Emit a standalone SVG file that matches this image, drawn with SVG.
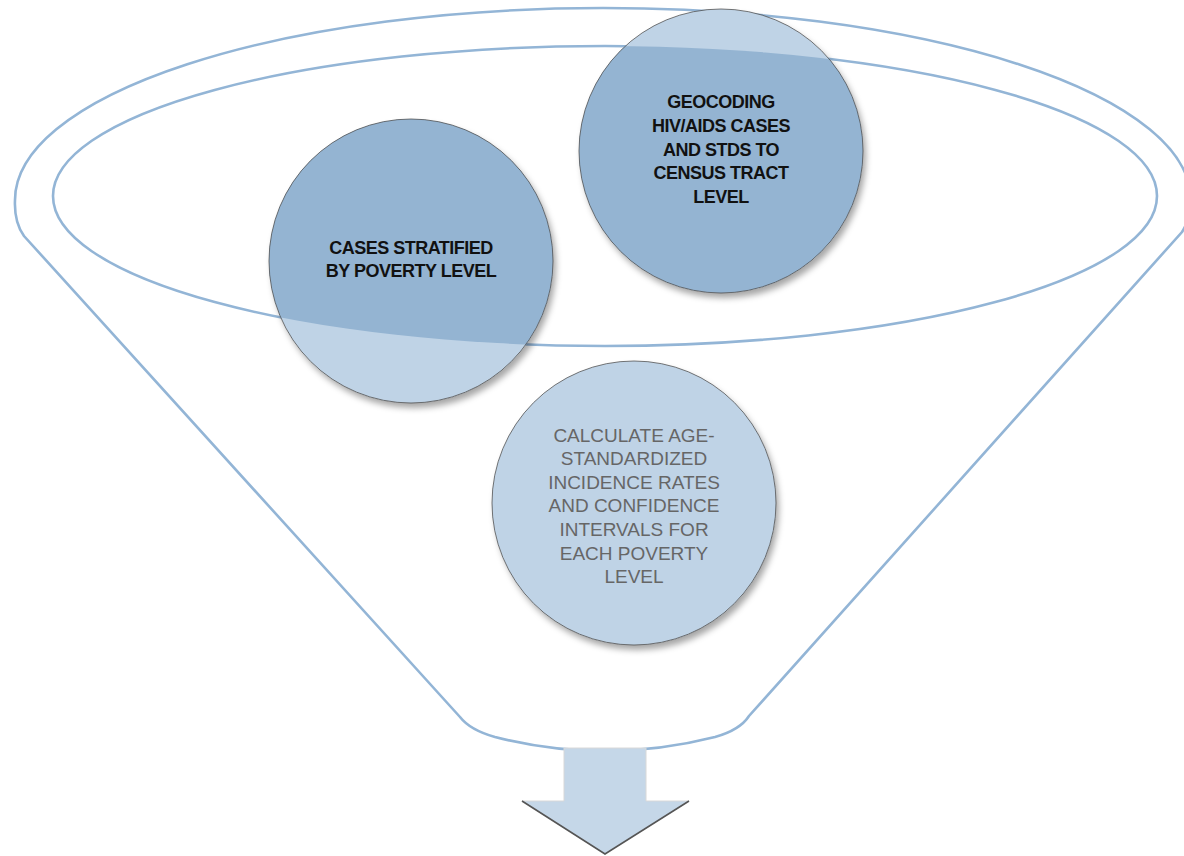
<svg xmlns="http://www.w3.org/2000/svg" width="1184" height="856" viewBox="0 0 1184 856">
<style>
.funnel{fill:none;stroke:#93b5d6;stroke-width:2.6}
.circ-light{fill:#bfd3e6}
.circ-dark{fill:#94b4d2}
.circ-edge{fill:none;stroke:#4a4a4a;stroke-width:1;stroke-opacity:0.75}
.t-dark{font-family:"Liberation Sans",Arial,sans-serif;font-size:18px;font-weight:bold;letter-spacing:-0.5px;fill:#111;text-anchor:middle}
.t-gray{font-family:"Liberation Sans",Arial,sans-serif;font-size:19px;fill:#666;text-anchor:middle}
</style>
<defs>
<filter id="shadow" x="-20%" y="-20%" width="140%" height="140%">
<feDropShadow dx="3" dy="5" stdDeviation="3" flood-color="#000" flood-opacity="0.35"/>
</filter>
<clipPath id="innerClip">
<ellipse cx="605" cy="196" rx="552" ry="150"/>
</clipPath>
</defs>

<g id="funnel">
<path class="funnel" d="M 460,717 L 24,236 Q 14,222 15,200 A 588 192 0 0 1 1191,200 Q 1191,218 1182,232 L 749,716 Q 740,730 715,737 Q 605,765 495,737 Q 470,730 460,717 Z"/>
<ellipse class="funnel" cx="605" cy="196" rx="552" ry="150"/>
</g>

<g id="node-stratified">
<circle class="circ-light" cx="411" cy="261" r="142" filter="url(#shadow)"/>
<circle class="circ-dark" cx="411" cy="261" r="142" clip-path="url(#innerClip)"/>
<circle class="circ-edge" cx="411" cy="261" r="142"/>
<text class="t-dark" x="411" y="254">CASES STRATIFIED</text>
<text class="t-dark" x="411" y="277">BY POVERTY LEVEL</text>
</g>

<g id="node-geocoding">
<circle class="circ-light" cx="721" cy="151" r="142" filter="url(#shadow)"/>
<circle class="circ-dark" cx="721" cy="151" r="142" clip-path="url(#innerClip)"/>
<circle class="circ-edge" cx="721" cy="151" r="142"/>
<text class="t-dark" x="721" y="108">GEOCODING</text>
<text class="t-dark" x="721" y="132">HIV/AIDS CASES</text>
<text class="t-dark" x="721" y="156">AND STDS TO</text>
<text class="t-dark" x="721" y="179">CENSUS TRACT</text>
<text class="t-dark" x="721" y="203">LEVEL</text>
</g>

<g id="node-calculate">
<circle class="circ-light" cx="634" cy="503" r="142" filter="url(#shadow)"/>
<circle class="circ-edge" cx="634" cy="503" r="142" stroke-opacity="0.4"/>
<text class="t-gray" x="634" y="442">CALCULATE AGE-</text>
<text class="t-gray" x="634" y="465">STANDARDIZED</text>
<text class="t-gray" x="634" y="489">INCIDENCE RATES</text>
<text class="t-gray" x="634" y="512">AND CONFIDENCE</text>
<text class="t-gray" x="634" y="536">INTERVALS FOR</text>
<text class="t-gray" x="634" y="560">EACH POVERTY</text>
<text class="t-gray" x="634" y="583">LEVEL</text>
</g>

<g id="connectors">
<path d="M 564,748 L 646,748 L 646,801 L 689,801 L 605,854 L 522,801 L 564,801 Z" fill="#c5d7e8" stroke="#d8d8d8" stroke-width="1"/>
<path d="M 689,801 L 605,854 L 522,801" fill="none" stroke="#555" stroke-width="1.6"/>
</g>
</svg>
